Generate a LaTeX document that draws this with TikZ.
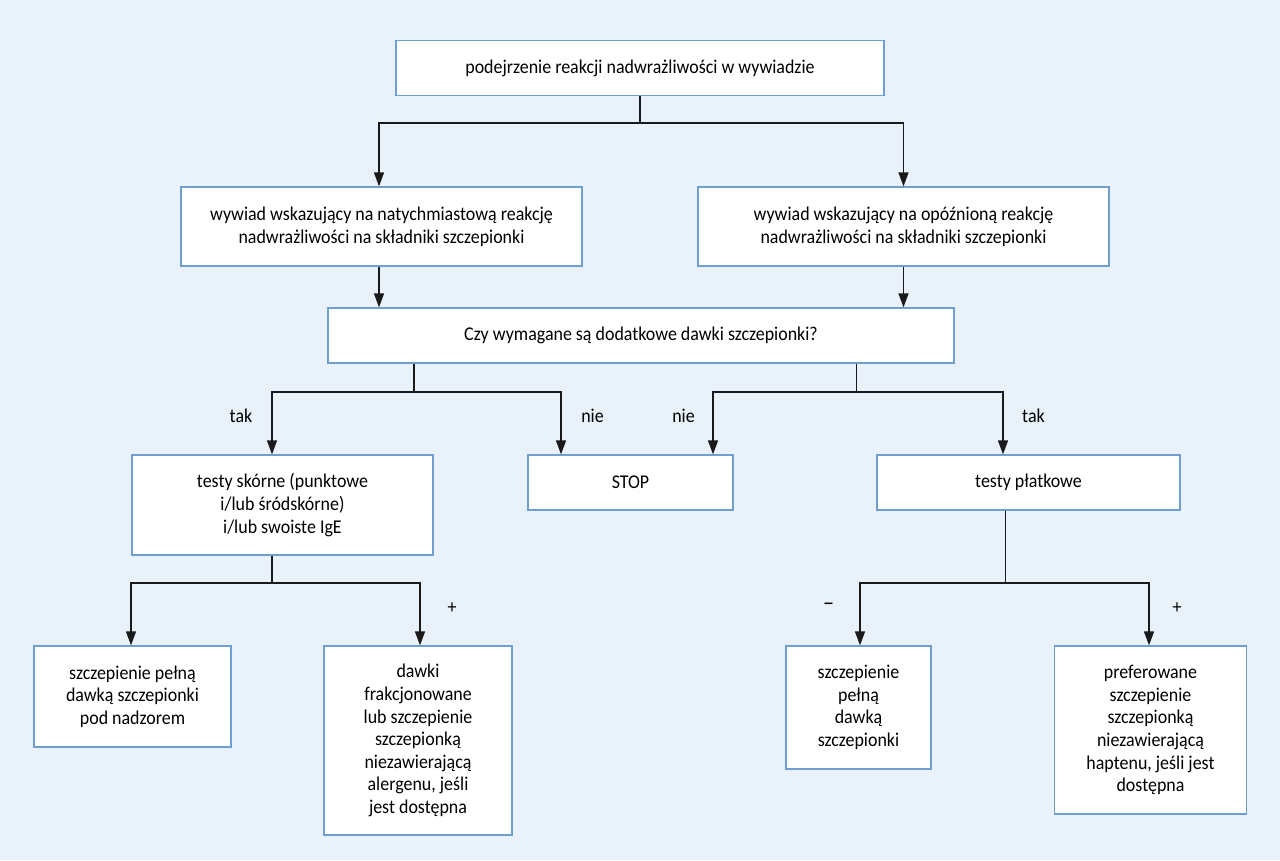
\documentclass[tikz,border=0pt]{standalone}
\usepackage{fontspec}
\setmainfont{Carlito}[FakeStretch=0.92]
\usetikzlibrary{arrows.meta,calc}
\definecolor{bg}{HTML}{E9F2FB}
\definecolor{boxblue}{HTML}{6E9FD0}
\definecolor{linec}{HTML}{1A1A1A}
\begin{document}
\begin{tikzpicture}[x=1pt,y=-1pt,
  box/.style={draw=boxblue, fill=white, line width=1.3pt, align=center, inner sep=0pt,
    font=\fontsize{19.5}{22.6}\selectfont},
  conn/.style={draw=linec, line width=1.4pt},
  arr/.style={conn, -{Triangle[width=10pt,length=14pt]}},
  lab/.style={font=\fontsize{19.5}{20}\selectfont, inner sep=0pt}]
\fill[bg] (0,0) rectangle (1280,860);
\useasboundingbox (0,0) rectangle (1280,860);

\node[box, minimum width=488, minimum height=55] (top) at (640,68.25)
  {podejrzenie reakcji nadwrażliwości w wywiadzie};
\node[box, minimum width=401, minimum height=79] (l1) at (381.5,226.5)
  {wywiad wskazujący na natychmiastową reakcję\\nadwrażliwości na składniki szczepionki};
\node[box, minimum width=411, minimum height=79] (r1) at (903.5,226.5)
  {wywiad wskazujący na opóźnioną reakcję\\nadwrażliwości na składniki szczepionki};
\node[box, minimum width=626, minimum height=55] (q) at (641,335.5)
  {Czy wymagane są dodatkowe dawki szczepionki?};
\node[box, minimum width=301, minimum height=100] (skin) at (282.5,505)
  {testy skórne (punktowe\\i/lub śródskórne)\\i/lub swoiste IgE};
\node[box, minimum width=205, minimum height=55] (stop) at (630.5,482.5) {STOP};
\node[box, minimum width=303, minimum height=55] (patch) at (1028.5,482.5) {testy płatkowe};
\node[box, minimum width=197, minimum height=101] (bl) at (132.5,696.5)
  {szczepienie pełną\\dawką szczepionki\\pod nadzorem};
\node[box, minimum width=188, minimum height=189] (frac) at (418,740.5)
  {dawki\\frakcjonowane\\lub szczepienie\\szczepionką\\niezawierającą\\alergenu, jeśli\\jest dostępna};
\node[box, minimum width=145, minimum height=123] (full) at (858.5,707.5)
  {szczepienie\\pełną\\dawką\\szczepionki};
\node[box, minimum width=192, minimum height=168] (pref) at (1150.5,730)
  {preferowane\\szczepienie\\szczepionką\\niezawierającą\\haptenu, jeśli jest\\dostępna};

\coordinate (l1Out) at ($(l1.south)+(-2.5,0)$);
\coordinate (l1In) at ($(l1.north)+(-2.5,0)$);
\coordinate (qL) at ($(q.south)+(-227,0)$);
\coordinate (qR) at ($(q.south)+(215.7,0)$);
\coordinate (skinIn) at ($(skin.north)+(-10.5,0)$);
\coordinate (stopInL) at ($(stop.north)+(-69.5,0)$);
\coordinate (stopInR) at ($(stop.north)+(82.5,0)$);
\coordinate (patchIn) at ($(patch.north)+(-25.5,0)$);
\coordinate (skinOut) at ($(skin.south)+(-10.5,0)$);
\coordinate (patchOut) at ($(patch.south)+(-23,0)$);
\coordinate (blIn) at ($(bl.north)+(-1.5,0)$);
\coordinate (fracIn) at ($(frac.north)+(2,0)$);
\coordinate (fullIn) at ($(full.north)+(1.5,0)$);
\coordinate (prefIn) at ($(pref.north)+(-1.5,0)$);

\draw[arr] (top.south) -- ++(0,26.5) -| (l1In);
\draw[arr] (top.south) -- ++(0,26.5) -| (r1.north);
\draw[arr] (l1Out) -- (l1Out |- q.north);
\draw[arr] (r1.south) -- (r1.south |- q.north);

\draw[arr] (qL) -- ++(0,28.5) -| (skinIn);
\draw[arr] (qL) -- ++(0,28.5) -| (stopInL);
\draw[arr] (qR) -- ++(0,28.5) -| (stopInR);
\draw[arr] (qR) -- ++(0,28.5) -| (patchIn);

\draw[arr] (skinOut) -- ++(0,27.5) -| (blIn);
\draw[arr] (skinOut) -- ++(0,27.5) -| (fracIn);
\draw[arr] (patchOut) -- ++(0,72.5) -| (fullIn);
\draw[arr] (patchOut) -- ++(0,72.5) -| (prefIn);

\node[lab] (t1) at (241,416) {tak};
\node[lab] (n1) at (592.5,416) {nie};
\node[lab] (n2) at (683.5,416) {nie};
\node[lab] (t2) at (1033.5,416) {tak};
\node[lab] (p1) at (452,608) {+};
\node[lab, font=\fontsize{24}{24}\selectfont] (m1) at (828.5,607) {–};
\node[lab] (p2) at (1177,608) {+};
\end{tikzpicture}
\end{document}
